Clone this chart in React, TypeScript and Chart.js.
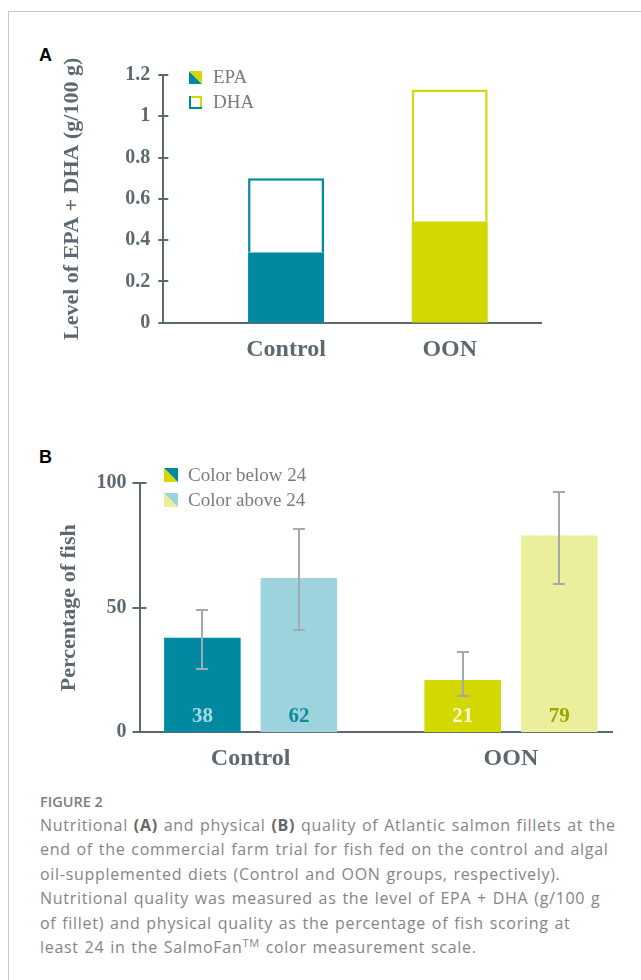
import React, { useEffect, useRef } from "react";
import { Chart, registerables } from "chart.js";

Chart.register(...registerables);

// ---------------- data ----------------
const CATEGORIES = ["Control", "OON"];

const A_SERIES = ["EPA", "DHA"];
const EPA_VALUES = [0.34, 0.49];
const DHA_VALUES = [0.36, 0.64];
const A_TICKS = [0, 0.2, 0.4, 0.6, 0.8, 1, 1.2];

const B_SERIES = ["Color below 24", "Color above 24"];
const BELOW_VALUES = [38, 21];
const ABOVE_VALUES = [62, 79];
const BELOW_ERR_LOW = [25.6, 14.6];
const BELOW_ERR_HIGH = [49.1, 32.1];
const ABOVE_ERR_LOW = [41.1, 59.4];
const ABOVE_ERR_HIGH = [81.5, 96.5];
const B_TICKS = [0, 50, 100];

// ---------------- styles ----------------
const TEAL = "#0089a0";
const YELLOW = "#d3d800";
const LIGHT_TEAL = "#9cd3dc";
const LIGHT_YELLOW = "#ebee9b";
const ERR_COLOR = "#a2a9af";
const AXIS_COLOR = "#5d6971";
const LEGEND_TEXT = "#777c81";
const SERIF = "'Liberation Serif', 'Times New Roman', serif";

// ---------------- plugins ----------------
const crossTicks = {
  id: "crossTicks",
  afterDraw(chart: any, _a: any, o: any) {
    const y = chart.scales.y;
    const ctx = chart.ctx;
    const left = chart.chartArea.left;
    ctx.save();
    ctx.strokeStyle = o.color;
    ctx.lineWidth = o.width;
    y.ticks.forEach((t: any) => {
      const py = Math.round(y.getPixelForValue(t.value));
      ctx.beginPath();
      ctx.moveTo(left - o.len, py);
      ctx.lineTo(left + o.len, py);
      ctx.stroke();
    });
    ctx.restore();
  },
};

const iconLegend = {
  id: "iconLegend",
  afterDraw(chart: any, _a: any, o: any) {
    const ctx = chart.ctx;
    const { left, top } = chart.chartArea;
    ctx.save();
    chart.data.datasets.forEach((ds: any, i: number) => {
      const icon = o.icons[i];
      const s = o.size;
      const cy = top + o.dy + i * o.rowGap;
      const x0 = left + o.dx;
      const y0 = cy - s / 2;
      if (icon.outline) {
        const w = 2;
        ctx.fillStyle = icon.ur;
        ctx.fillRect(x0, y0, s, w);
        ctx.fillRect(x0 + s - w, y0, w, s);
        ctx.fillStyle = icon.ll;
        ctx.fillRect(x0, y0, w, s);
        ctx.fillRect(x0, y0 + s - w, s, w);
      } else {
        ctx.fillStyle = icon.ll;
        ctx.beginPath();
        ctx.moveTo(x0, y0);
        ctx.lineTo(x0, y0 + s);
        ctx.lineTo(x0 + s, y0 + s);
        ctx.closePath();
        ctx.fill();
        ctx.fillStyle = icon.ur;
        ctx.beginPath();
        ctx.moveTo(x0, y0);
        ctx.lineTo(x0 + s, y0);
        ctx.lineTo(x0 + s, y0 + s);
        ctx.closePath();
        ctx.fill();
      }
      ctx.fillStyle = o.color;
      ctx.font = o.font;
      ctx.textBaseline = "middle";
      ctx.textAlign = "left";
      ctx.fillText(ds.label, x0 + s + o.gap, cy + 1);
    });
    ctx.restore();
  },
};

const errorBars = {
  id: "errorBars",
  afterDatasetsDraw(chart: any, _a: any, o: any) {
    const ctx = chart.ctx;
    const y = chart.scales.y;
    ctx.save();
    ctx.strokeStyle = o.color;
    ctx.lineWidth = o.width;
    o.ranges.forEach((r: any, di: number) => {
      const meta = chart.getDatasetMeta(di);
      meta.data.forEach((bar: any, i: number) => {
        const x = Math.round(bar.x);
        const yl = Math.round(y.getPixelForValue(r.low[i]));
        const yh = Math.round(y.getPixelForValue(r.high[i]));
        ctx.beginPath();
        ctx.moveTo(x, yl);
        ctx.lineTo(x, yh);
        ctx.moveTo(x - o.cap / 2, yl);
        ctx.lineTo(x + o.cap / 2, yl);
        ctx.moveTo(x - o.cap / 2, yh);
        ctx.lineTo(x + o.cap / 2, yh);
        ctx.stroke();
      });
    });
    ctx.restore();
  },
};

const barValues = {
  id: "barValues",
  afterDatasetsDraw(chart: any, _a: any, o: any) {
    const ctx = chart.ctx;
    const base = chart.scales.y.getPixelForValue(0);
    ctx.save();
    ctx.font = o.font;
    ctx.textAlign = "center";
    ctx.textBaseline = "middle";
    chart.data.datasets.forEach((ds: any, di: number) => {
      chart.getDatasetMeta(di).data.forEach((bar: any, i: number) => {
        ctx.fillStyle = o.colors[di][i];
        ctx.fillText(String(ds.data[i].y), bar.x, base - o.offset);
      });
    });
    ctx.restore();
  },
};

const tickFont = { family: SERIF, size: 20, weight: "bold" as const };
const catFont = { family: SERIF, size: 24, weight: "bold" as const };
const titleFont = { family: SERIF, size: 22, weight: "bold" as const };

function catAxis(min: number, max: number, height: number, padding: number, stacked: boolean): any {
  return {
    type: "linear",
    stacked,
    offset: false,
    min,
    max,
    grid: { display: false, drawTicks: false, offset: false },
    border: { display: true, color: AXIS_COLOR, width: 2 },
    afterBuildTicks: (s: any) => {
      s.ticks = CATEGORIES.map((_, i) => ({ value: i }));
    },
    afterFit: (s: any) => {
      s.height = height;
    },
    ticks: {
      callback: (v: any) => CATEGORIES[v],
      font: catFont,
      color: AXIS_COLOR,
      padding,
      maxRotation: 0,
      autoSkip: false,
    },
  };
}

function makeA(): any {
  return {
    type: "bar",
    data: {
      datasets: [
        {
          label: A_SERIES[0],
          data: CATEGORIES.map((_, i) => ({ x: i, y: EPA_VALUES[i] })),
          backgroundColor: [TEAL, YELLOW],
          borderWidth: 0,
          categoryPercentage: 0.464,
          barPercentage: 1,
        },
        {
          label: A_SERIES[1],
          data: CATEGORIES.map((_, i) => ({ x: i, y: DHA_VALUES[i] })),
          backgroundColor: "#ffffff",
          borderColor: [TEAL, YELLOW],
          borderWidth: 2.5,
          categoryPercentage: 0.464,
          barPercentage: 1,
        },
      ],
    },
    options: {
      responsive: false,
      animation: false,
      events: [],
      layout: { padding: { left: 0, right: 99.3, top: 35, bottom: 0 } },
      scales: {
        x: catAxis(-0.75, 1.562, 57.3, 13, true),
        y: {
          stacked: true,
          min: 0,
          max: 1.2,
          afterBuildTicks: (s: any) => {
            s.ticks = A_TICKS.map((v) => ({ value: v }));
          },
          afterFit: (s: any) => {
            s.width = 163.3;
          },
          grid: { display: false, drawTicks: false },
          border: { display: true, color: AXIS_COLOR, width: 2 },
          ticks: {
            callback: (v: any) => String(v),
            font: tickFont,
            color: AXIS_COLOR,
            padding: 13,
          },
          title: {
            display: true,
            text: "Level of EPA + DHA (g/100 g)",
            font: titleFont,
            color: AXIS_COLOR,
            padding: { top: 58.8, bottom: 0 },
          },
        },
      },
      plugins: {
        legend: { display: false },
        tooltip: { enabled: false },
        crossTicks: { color: AXIS_COLOR, width: 2, len: 5 },
        iconLegend: {
          dx: 25.7,
          dy: 2.5,
          rowGap: 25,
          size: 13,
          gap: 11,
          font: `19px ${SERIF}`,
          color: LEGEND_TEXT,
          icons: [
            { ll: TEAL, ur: YELLOW },
            { ll: TEAL, ur: YELLOW, outline: true },
          ],
        },
      },
    },
    plugins: [crossTicks, iconLegend],
  };
}

function makeB(): any {
  return {
    type: "bar",
    data: {
      datasets: [
        {
          label: B_SERIES[0],
          data: CATEGORIES.map((_, i) => ({ x: i, y: BELOW_VALUES[i] })),
          backgroundColor: [TEAL, YELLOW],
          borderWidth: 0,
          categoryPercentage: 0.7417,
          barPercentage: 0.793,
        },
        {
          label: B_SERIES[1],
          data: CATEGORIES.map((_, i) => ({ x: i, y: ABOVE_VALUES[i] })),
          backgroundColor: [LIGHT_TEAL, LIGHT_YELLOW],
          borderWidth: 0,
          categoryPercentage: 0.7417,
          barPercentage: 0.793,
        },
      ],
    },
    options: {
      responsive: false,
      animation: false,
      events: [],
      layout: { padding: { left: 0, right: 28.3, top: 43.3, bottom: 0 } },
      scales: {
        x: catAxis(-0.427, 1.391, 47.7, 12, false),
        y: {
          min: 0,
          max: 100,
          afterBuildTicks: (s: any) => {
            s.ticks = B_TICKS.map((v) => ({ value: v }));
          },
          afterFit: (s: any) => {
            s.width = 139.5;
          },
          grid: { display: false, drawTicks: false },
          border: { display: true, color: AXIS_COLOR, width: 2 },
          ticks: {
            callback: (v: any) => String(v),
            font: tickFont,
            color: AXIS_COLOR,
            padding: 13,
          },
          title: {
            display: true,
            text: "Percentage of fish",
            font: titleFont,
            color: AXIS_COLOR,
            padding: { top: 55.8, bottom: 0 },
          },
        },
      },
      plugins: {
        legend: { display: false },
        tooltip: { enabled: false },
        crossTicks: { color: AXIS_COLOR, width: 2, len: 7 },
        errorBars: {
          color: ERR_COLOR,
          width: 2,
          cap: 12,
          ranges: [
            { low: BELOW_ERR_LOW, high: BELOW_ERR_HIGH },
            { low: ABOVE_ERR_LOW, high: ABOVE_ERR_HIGH },
          ],
        },
        barValues: {
          font: `bold 21px ${SERIF}`,
          offset: 15.6,
          colors: [
            ["#a6dbe3", "#f6f8d2"],
            ["#0b8aa0", "#9fa300"],
          ],
        },
        iconLegend: {
          dx: 24.5,
          dy: -8.3,
          rowGap: 25,
          size: 14,
          gap: 10,
          font: `19px ${SERIF}`,
          color: LEGEND_TEXT,
          icons: [
            { ll: YELLOW, ur: TEAL },
            { ll: LIGHT_YELLOW, ur: LIGHT_TEAL },
          ],
        },
      },
    },
    plugins: [crossTicks, barValues, errorBars, iconLegend],
  };
}

function ChartCanvas({ make, top, height }: { make: () => any; top: number; height: number }) {
  const ref = useRef<HTMLCanvasElement | null>(null);
  useEffect(() => {
    if (!ref.current) return;
    const chart = new Chart(ref.current, make());
    return () => chart.destroy();
  }, [make]);
  return (
    <canvas
      ref={ref}
      width={641}
      height={height}
      style={{ position: "absolute", left: 0, top, width: 641, height, display: "block" }}
    />
  );
}

const panelLabel: React.CSSProperties = {
  position: "absolute",
  left: 39,
  fontFamily: "'Liberation Sans', Arial, sans-serif",
  fontWeight: "bold",
  fontSize: 18,
  lineHeight: "18px",
  color: "#000",
};

export default function App() {
  return (
    <div style={{ position: "absolute", left: 0, top: 0, width: 641, height: 980, overflow: "hidden", background: "#fff" }}>
      <div
        style={{
          position: "absolute",
          left: 8,
          top: 11,
          width: 633,
          height: 969,
          borderTop: "1px solid #c9c9c9",
          borderLeft: "1px solid #c9c9c9",
          boxSizing: "border-box",
        }}
      />
      <div style={{ ...panelLabel, top: 46 }}>A</div>
      <ChartCanvas make={makeA} top={40} height={340} />
      <div style={{ ...panelLabel, top: 448 }}>B</div>
      <ChartCanvas make={makeB} top={440} height={340} />
      <div
        style={{
          position: "absolute",
          left: 40,
          top: 792,
          fontFamily: "'Open Sans', sans-serif",
          color: "#858585",
          whiteSpace: "nowrap",
        }}
      >
        <div style={{ fontSize: 14.5, fontWeight: 600, lineHeight: "20.5px", color: "#7d7d7d" }}>FIGURE 2</div>
        <div style={{ fontSize: 16, lineHeight: "24.5px", letterSpacing: "0.7px", wordSpacing: "1px" }}>
          Nutritional <b style={{ color: "#666" }}>(A)</b> and physical <b style={{ color: "#666" }}>(B)</b> quality of Atlantic salmon fillets at the
          <br />
          end of the commercial farm trial for fish fed on the control and algal
          <br />
          oil-supplemented diets (Control and OON groups, respectively).
          <br />
          Nutritional quality was measured as the level of EPA + DHA (g/100 g
          <br />
          of fillet) and physical quality as the percentage of fish scoring at
          <br />
          least 24 in the SalmoFan<sup style={{ fontSize: 11, lineHeight: 0 }}>TM</sup> color measurement scale.
        </div>
      </div>
    </div>
  );
}
